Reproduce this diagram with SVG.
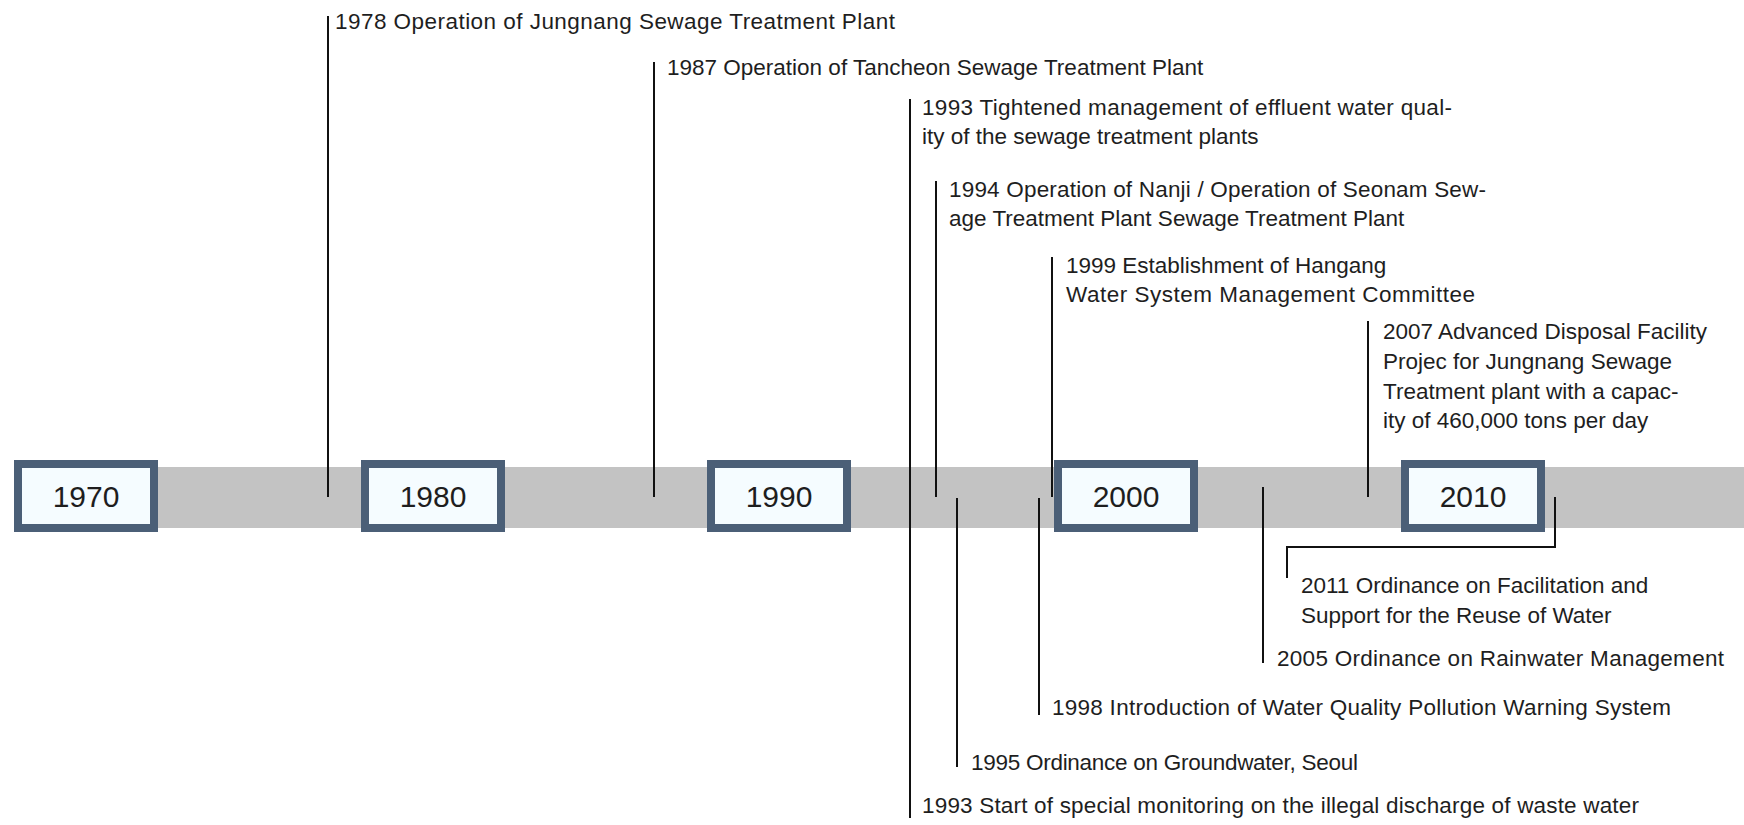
<svg xmlns="http://www.w3.org/2000/svg" width="1744" height="825" viewBox="0 0 1744 825">
  <style>
    .band { fill: #c3c3c3; }
    .year rect { fill: #f5fcff; stroke: #4b5f77; stroke-width: 8; }
    .year text { font-family: "Liberation Sans", Arial, sans-serif; font-size: 30px; fill: #1e1e1e; text-anchor: middle; }
    .event text { font-family: "Liberation Sans", Arial, sans-serif; font-size: 22.5px; fill: #1e1e1e; }
    .links line, .links polyline { stroke: #111; stroke-width: 2; fill: none; }
  </style>

  <rect width="1744" height="825" fill="#ffffff"/>

  <!-- timeline band -->
  <rect class="band" x="16" y="467" width="1728" height="61"/>

  <!-- connectors from the band to each event label -->
  <g id="connectors" class="links">
    <line x1="328" y1="16" x2="328" y2="497"/>
    <line x1="654" y1="62" x2="654" y2="497"/>
    <line x1="910" y1="99" x2="910" y2="497"/>
    <line x1="910" y1="497" x2="910" y2="818"/>
    <line x1="936" y1="181" x2="936" y2="497"/>
    <line x1="1052" y1="257" x2="1052" y2="497"/>
    <line x1="1368" y1="321" x2="1368" y2="497"/>
    <polyline points="1555,497 1555,547 1287,547 1287,578"/>
    <line x1="1263" y1="487" x2="1263" y2="663"/>
    <line x1="1039" y1="498" x2="1039" y2="715"/>
    <line x1="957" y1="498" x2="957" y2="767"/>
  </g>

  <!-- decade markers -->
  <g id="year-1970" class="year"><rect x="18" y="464" width="136" height="64"/><text x="86" y="507">1970</text></g>
  <g id="year-1980" class="year"><rect x="365" y="464" width="136" height="64"/><text x="433" y="507">1980</text></g>
  <g id="year-1990" class="year"><rect x="711" y="464" width="136" height="64"/><text x="779" y="507">1990</text></g>
  <g id="year-2000" class="year"><rect x="1058" y="464" width="136" height="64"/><text x="1126" y="507">2000</text></g>
  <g id="year-2010" class="year"><rect x="1405" y="464" width="136" height="64"/><text x="1473" y="507">2010</text></g>

  <!-- events above the band -->
  <g id="event-1978" class="event"><text x="335" y="29" textLength="560" lengthAdjust="spacing">1978 Operation of Jungnang Sewage Treatment Plant</text></g>
  <g id="event-1987" class="event"><text x="667" y="75">1987 Operation of Tancheon Sewage Treatment Plant</text></g>
  <g id="event-1993a" class="event">
    <text x="922" y="115" textLength="530" lengthAdjust="spacing">1993 Tightened management of effluent water qual-</text>
    <text x="922" y="144">ity of the sewage treatment plants</text>
  </g>
  <g id="event-1994" class="event">
    <text x="949" y="197" textLength="537" lengthAdjust="spacing">1994 Operation of Nanji / Operation of Seonam Sew-</text>
    <text x="949" y="226">age Treatment Plant Sewage Treatment Plant</text>
  </g>
  <g id="event-1999" class="event">
    <text x="1066" y="273">1999 Establishment of Hangang</text>
    <text x="1066" y="302" textLength="409" lengthAdjust="spacing">Water System Management Committee</text>
  </g>
  <g id="event-2007" class="event">
    <text x="1383" y="339">2007 Advanced Disposal Facility</text>
    <text x="1383" y="369">Projec for Jungnang Sewage</text>
    <text x="1383" y="399">Treatment plant with a capac-</text>
    <text x="1383" y="428">ity of 460,000 tons per day</text>
  </g>

  <!-- events below the band -->
  <g id="event-2011" class="event">
    <text x="1301" y="593">2011 Ordinance on Facilitation and</text>
    <text x="1301" y="623">Support for the Reuse of Water</text>
  </g>
  <g id="event-2005" class="event"><text x="1277" y="666" textLength="447" lengthAdjust="spacing">2005 Ordinance on Rainwater Management</text></g>
  <g id="event-1998" class="event"><text x="1052" y="715" textLength="619" lengthAdjust="spacing">1998 Introduction of Water Quality Pollution Warning System</text></g>
  <g id="event-1995" class="event"><text x="971" y="770" textLength="387" lengthAdjust="spacing">1995 Ordinance on Groundwater, Seoul</text></g>
  <g id="event-1993b" class="event"><text x="922" y="813" textLength="717" lengthAdjust="spacing">1993 Start of special monitoring on the illegal discharge of waste water</text></g>
</svg>
